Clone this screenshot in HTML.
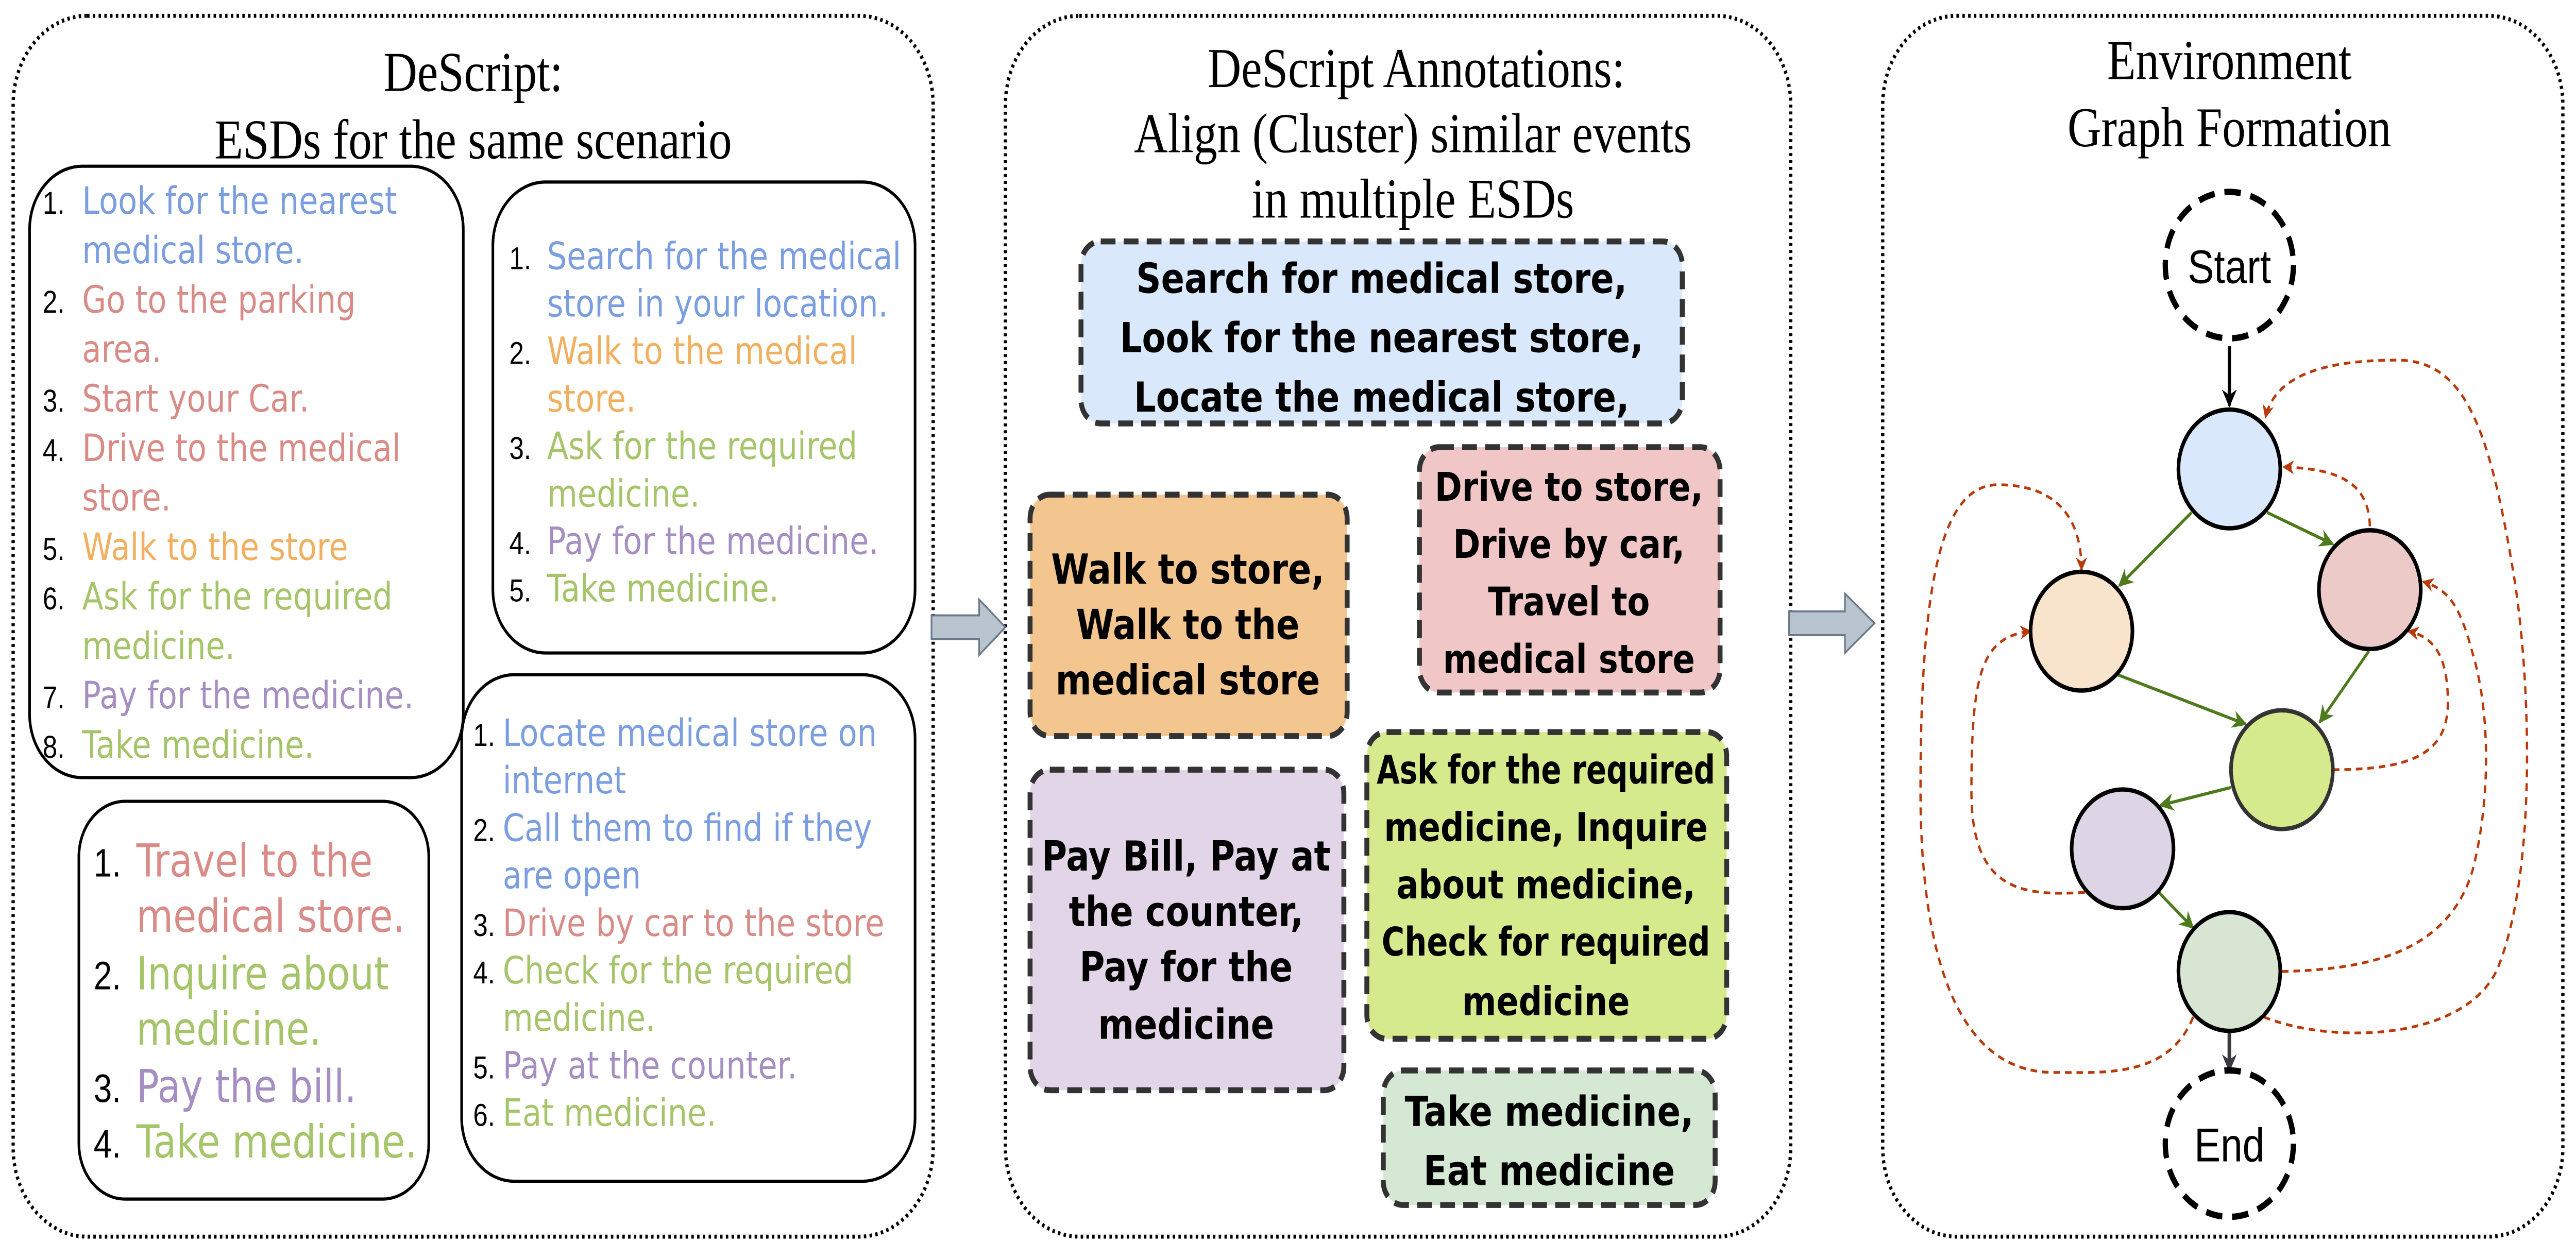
<!DOCTYPE html>
<html><head><meta charset="utf-8"><style>
html,body{margin:0;padding:0;background:#fff;overflow:hidden;width:100%;height:100%}
svg{display:block;width:100vw;height:100vh}
.t{font-family:"Liberation Serif",serif;font-size:28.5px;fill:#000;text-anchor:middle}
.n{font-family:"Liberation Sans",sans-serif;font-size:16px;fill:#000}
.l{font-family:"DejaVu Sans",sans-serif;font-size:19px}
.n2{font-family:"Liberation Sans",sans-serif;font-size:20px;fill:#000}
.l2{font-family:"DejaVu Sans",sans-serif;font-size:23px}
.b{font-family:"DejaVu Sans",sans-serif;font-weight:bold;font-size:21px;fill:#000;text-anchor:middle}
.B{fill:#7b9ee0}.P{fill:#d98c87}.O{fill:#f0b060}.G{fill:#a6c56a}.V{fill:#a58fc2}
</style></head><body>
<svg viewBox="0 0 1568 636.3" preserveAspectRatio="none" xmlns="http://www.w3.org/2000/svg">
<defs>
<marker id="ar" viewBox="0 0 10 10" refX="9" refY="5" markerWidth="7" markerHeight="7" orient="auto" markerUnits="userSpaceOnUse"><path d="M0,0 L10,5 L0,10 L3,5 z" fill="#b83a0a"/></marker>
<marker id="ag" viewBox="0 0 10 10" refX="9" refY="5" markerWidth="9" markerHeight="9" orient="auto" markerUnits="userSpaceOnUse"><path d="M0,0 L10,5 L0,10 L3,5 z" fill="#4d7a1a"/></marker>
<marker id="ak" viewBox="0 0 10 10" refX="9" refY="5" markerWidth="9" markerHeight="9" orient="auto" markerUnits="userSpaceOnUse"><path d="M0,0 L10,5 L0,10 L3,5 z" fill="#000"/></marker>
<marker id="ad" viewBox="0 0 10 10" refX="9" refY="5" markerWidth="9" markerHeight="9" orient="auto" markerUnits="userSpaceOnUse"><path d="M0,0 L10,5 L0,10 L3,5 z" fill="#3a3a40"/></marker>
</defs>
<rect width="1568" height="636.3" fill="#fff"/>
<g fill="none" stroke="#000" stroke-width="2" stroke-dasharray="1.5 2">
<rect x="8" y="8" width="560" height="617" rx="45"/>
<rect x="612" y="8" width="478" height="617" rx="45"/>
<rect x="1146" y="8" width="414" height="617" rx="45"/>
</g>
<path d="M567,311 L596,311 L596,303 L612,317 L596,331 L596,323 L567,323 Z" fill="#b9c4cf" stroke="#6b7a8a" stroke-width="1"/>
<path d="M1089,309 L1123,309 L1123,300 L1141,315 L1123,330 L1123,321 L1089,321 Z" fill="#b9c4cf" stroke="#6b7a8a" stroke-width="1"/>
<!-- panel 1 -->
<text class="t" x="288" y="46">DeScript:</text>
<text class="t" x="288" y="80">ESDs for the same scenario</text>
<g fill="none" stroke="#000" stroke-width="1.6">
<rect x="18" y="84" width="264" height="309" rx="32"/>
<rect x="300" y="92" width="257" height="238" rx="32"/>
<rect x="48" y="405" width="213" height="201" rx="28"/>
<rect x="281" y="341" width="276" height="256" rx="32"/>
</g>
<g>
<text class="n" x="26" y="108">1.</text><text class="l B" x="50" y="108">Look for the nearest</text>
<text class="l B" x="50" y="133">medical store.</text>
<text class="n" x="26" y="158">2.</text><text class="l P" x="50" y="158">Go to the parking</text>
<text class="l P" x="50" y="183">area.</text>
<text class="n" x="26" y="208">3.</text><text class="l P" x="50" y="208">Start your Car.</text>
<text class="n" x="26" y="233">4.</text><text class="l P" x="50" y="233">Drive to the medical</text>
<text class="l P" x="50" y="258">store.</text>
<text class="n" x="26" y="283">5.</text><text class="l O" x="50" y="283">Walk to the store</text>
<text class="n" x="26" y="308">6.</text><text class="l G" x="50" y="308">Ask for the required</text>
<text class="l G" x="50" y="333">medicine.</text>
<text class="n" x="26" y="358">7.</text><text class="l V" x="50" y="358">Pay for the medicine.</text>
<text class="n" x="26" y="383">8.</text><text class="l G" x="50" y="383">Take medicine.</text>
</g>
<g>
<text class="n" x="310" y="136">1.</text><text class="l B" x="333" y="136">Search for the medical</text>
<text class="l B" x="333" y="160">store in your location.</text>
<text class="n" x="310" y="184">2.</text><text class="l O" x="333" y="184">Walk to the medical</text>
<text class="l O" x="333" y="208">store.</text>
<text class="n" x="310" y="232">3.</text><text class="l G" x="333" y="232">Ask for the required</text>
<text class="l G" x="333" y="256">medicine.</text>
<text class="n" x="310" y="280">4.</text><text class="l V" x="333" y="280">Pay for the medicine.</text>
<text class="n" x="310" y="304">5.</text><text class="l G" x="333" y="304">Take medicine.</text>
</g>
<g>
<text class="n2" x="57" y="443">1.</text><text class="l2 P" x="83" y="443">Travel to the</text>
<text class="l2 P" x="83" y="471">medical store.</text>
<text class="n2" x="57" y="500">2.</text><text class="l2 G" x="83" y="500">Inquire about</text>
<text class="l2 G" x="83" y="528">medicine.</text>
<text class="n2" x="57" y="557">3.</text><text class="l2 V" x="83" y="557">Pay the bill.</text>
<text class="n2" x="57" y="585">4.</text><text class="l2 G" x="83" y="585">Take medicine.</text>
</g>
<g>
<text class="n" x="288" y="377">1.</text><text class="l B" x="306" y="377">Locate medical store on</text>
<text class="l B" x="306" y="401">internet</text>
<text class="n" x="288" y="425">2.</text><text class="l B" x="306" y="425">Call them to find if they</text>
<text class="l B" x="306" y="449">are open</text>
<text class="n" x="288" y="473">3.</text><text class="l P" x="306" y="473">Drive by car to the store</text>
<text class="n" x="288" y="497">4.</text><text class="l G" x="306" y="497">Check for the required</text>
<text class="l G" x="306" y="521">medicine.</text>
<text class="n" x="288" y="545">5.</text><text class="l V" x="306" y="545">Pay at the counter.</text>
<text class="n" x="288" y="569">6.</text><text class="l G" x="306" y="569">Eat medicine.</text>
</g>
<!-- panel 2 -->
<text class="t" x="862" y="44">DeScript Annotations:</text>
<text class="t" x="860" y="77">Align (Cluster) similar events</text>
<text class="t" x="860" y="110">in multiple ESDs</text>
<g stroke="#333" stroke-width="3" stroke-dasharray="9 5">
<rect x="658" y="122" width="366" height="92" rx="12" fill="#dae8fc"/>
<rect x="627" y="250" width="193" height="122" rx="12" fill="#f3c690"/>
<rect x="864" y="226" width="183" height="124" rx="12" fill="#f0c6c6"/>
<rect x="627" y="389" width="191" height="162" rx="12" fill="#e1d5e7"/>
<rect x="832" y="370" width="219" height="155" rx="12" fill="#d5e98d"/>
<rect x="842" y="541" width="202" height="68" rx="12" fill="#d5e8d4"/>
</g>
<text class="b" x="841" y="148">Search for medical store,</text>
<text class="b" x="841" y="178">Look for the nearest store,</text>
<text class="b" x="841" y="208">Locate the medical store,</text>
<text class="b" x="723" y="295">Walk to store,</text>
<text class="b" x="723" y="323">Walk to the</text>
<text class="b" x="723" y="351">medical store</text>
<text class="b" x="955" y="253" style="font-size:20px">Drive to store,</text>
<text class="b" x="955" y="282" style="font-size:20px">Drive by car,</text>
<text class="b" x="955" y="311" style="font-size:20px">Travel to</text>
<text class="b" x="955" y="340" style="font-size:20px">medical store</text>
<text class="b" x="722" y="440">Pay Bill, Pay at</text>
<text class="b" x="722" y="468">the counter,</text>
<text class="b" x="722" y="496">Pay for the</text>
<text class="b" x="722" y="525">medicine</text>
<text class="b" x="941" y="396" style="font-size:20px" textLength="206" lengthAdjust="spacingAndGlyphs">Ask for the required</text>
<text class="b" x="941" y="425" style="font-size:20px">medicine, Inquire</text>
<text class="b" x="941" y="454" style="font-size:20px">about medicine,</text>
<text class="b" x="941" y="483" style="font-size:20px" textLength="200" lengthAdjust="spacingAndGlyphs">Check for required</text>
<text class="b" x="941" y="513" style="font-size:20px">medicine</text>
<text class="b" x="943" y="569">Take medicine,</text>
<text class="b" x="943" y="599">Eat medicine</text>
<!-- panel 3 -->
<text class="t" x="1357" y="40">Environment</text>
<text class="t" x="1357" y="74">Graph Formation</text>
<g fill="none" stroke="#b83a0a" stroke-width="1.4" stroke-dasharray="4 3" marker-end="url(#ar)">
<path d="M1442.5,266 C1442,242 1420,237 1390,236"/>
<path d="M1378,514 C1420,528 1500,526 1520,490 C1545,440 1540,340 1530,290 C1515,215 1500,182 1459,182 C1420,182 1385,188 1379,211"/>
<path d="M1389,491 C1440,490 1490,482 1505,440 C1516,405 1516,360 1505,330 C1497,305 1490,298 1475,294"/>
<path d="M1420,389 C1470,389 1490,380 1490,355 C1490,332 1482,322 1466,319"/>
<path d="M1269,451 C1230,453 1200,450 1200,400 C1200,340 1206,322 1236,319"/>
<path d="M1335,514 C1320,545 1280,542 1250,542 C1190,542 1169,480 1169,400 C1169,300 1180,245 1216,245 C1250,245 1267,260 1267,288"/>
</g>
<g stroke="#4d7a1a" stroke-width="1.6" marker-end="url(#ag)">
<line x1="1334" y1="259" x2="1290" y2="296"/>
<line x1="1380" y1="259" x2="1420" y2="275"/>
<line x1="1289" y1="341" x2="1367" y2="366"/>
<line x1="1442" y1="329" x2="1412" y2="365"/>
<line x1="1358" y1="398" x2="1315" y2="407"/>
<line x1="1314" y1="451" x2="1335" y2="469"/>
</g>
<line x1="1357" y1="175" x2="1357" y2="205" stroke="#000" stroke-width="2" marker-end="url(#ak)"/>
<line x1="1357" y1="522" x2="1357" y2="541" stroke="#3a3a40" stroke-width="2.2" marker-end="url(#ad)"/>
<g stroke="#000" stroke-width="2.2">
<ellipse cx="1357" cy="237" rx="31" ry="30" fill="#dae8fc"/>
<ellipse cx="1442.5" cy="298" rx="31" ry="30" fill="#eccac8"/>
<ellipse cx="1267" cy="319" rx="31" ry="30" fill="#f8e4cc"/>
<ellipse cx="1389" cy="389" rx="31" ry="30" fill="#d5e98d" stroke="#333"/>
<ellipse cx="1292" cy="429" rx="31" ry="30" fill="#ddd5e6"/>
<ellipse cx="1357" cy="491" rx="31" ry="30" fill="#d9e5d3"/>
</g>
<g fill="#fff" stroke="#000" stroke-width="3.2" stroke-dasharray="10 6">
<ellipse cx="1357" cy="134" rx="39" ry="37"/>
<ellipse cx="1357" cy="578" rx="39" ry="37"/>
</g>
<text x="1357" y="143" font-family="Liberation Sans,sans-serif" font-size="24" text-anchor="middle">Start</text>
<text x="1357" y="587" font-family="Liberation Sans,sans-serif" font-size="24" text-anchor="middle">End</text>
</svg>
</body></html>
